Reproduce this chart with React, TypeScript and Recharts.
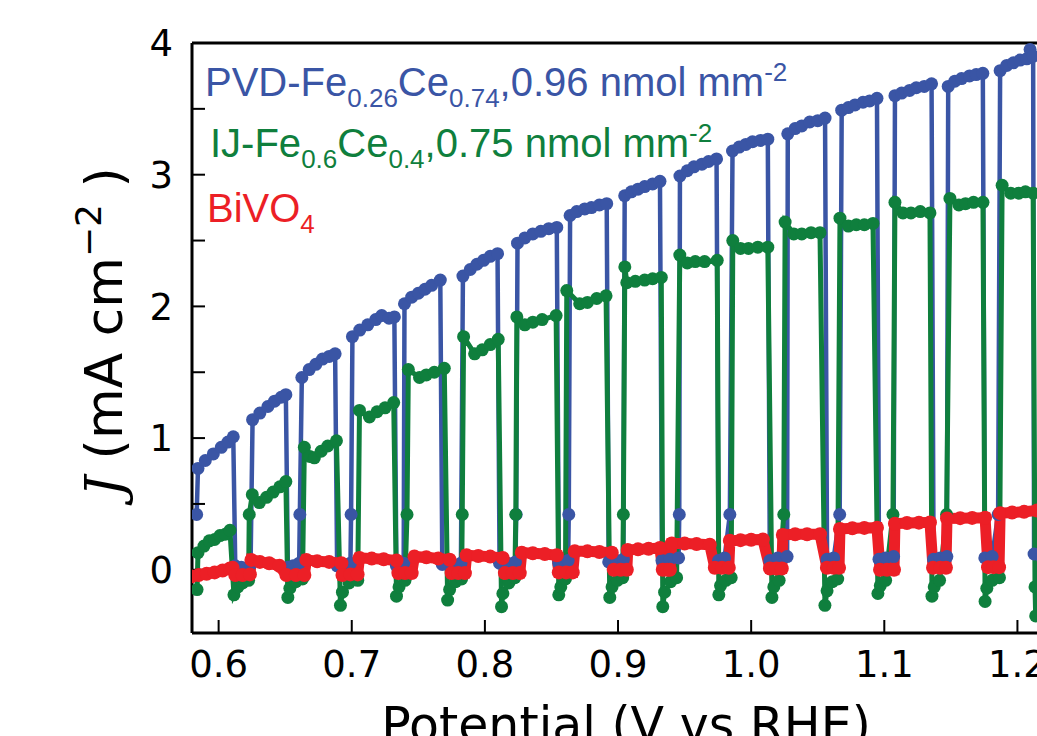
import { LineChart, Line, XAxis, YAxis } from "recharts";

// potential (V vs RHE), J (mA cm^-2)
const pvdPoints: [number, number][] = [
  [0.5835, 0.42], [0.5845, 0.77], [0.59, 0.83], [0.596, 0.88], [0.602, 0.93], [0.607, 0.97], [0.611, 1.01],
  [0.6125, 0.03], [0.617, 0.02], [0.624, 0.04],
  [0.6255, 1.14], [0.631, 1.19], [0.637, 1.24], [0.642, 1.28], [0.647, 1.31], [0.6505, 1.33],
  [0.652, 0.02], [0.656, 0.03], [0.6605, 0.05], [0.661, 0.42],
  [0.6625, 1.46], [0.668, 1.52], [0.673, 1.56], [0.678, 1.6], [0.683, 1.62], [0.6875, 1.64],
  [0.689, 0.03], [0.694, 0.04], [0.699, 0.05], [0.6995, 0.42],
  [0.7005, 1.77], [0.706, 1.82], [0.712, 1.86], [0.718, 1.9], [0.7225, 1.93], [0.728, 1.91], [0.732, 1.92],
  [0.7335, 0.03], [0.737, 0.04], [0.739, 0.05],
  [0.7396, 2.02], [0.745, 2.07], [0.75, 2.1], [0.755, 2.13], [0.76, 2.16], [0.7665, 2.2],
  [0.768, 0.04], [0.775, 0.04], [0.782, 0.05],
  [0.7835, 2.23], [0.789, 2.28], [0.794, 2.32], [0.799, 2.35], [0.804, 2.38], [0.8095, 2.4],
  [0.811, 0.05], [0.817, 0.05], [0.823, 0.06], [0.8235, 0.42],
  [0.8245, 2.48], [0.83, 2.52], [0.836, 2.55], [0.842, 2.57], [0.848, 2.59], [0.854, 2.6],
  [0.8555, 0.05], [0.86, 0.06], [0.8625, 0.07], [0.863, 0.42],
  [0.864, 2.69], [0.869, 2.72], [0.875, 2.74], [0.88, 2.75], [0.886, 2.77], [0.8915, 2.78],
  [0.893, 0.06], [0.899, 0.07], [0.904, 0.08],
  [0.905, 2.84], [0.91, 2.87], [0.915, 2.89], [0.92, 2.91], [0.926, 2.93], [0.9315, 2.95],
  [0.933, 0.07], [0.939, 0.08], [0.9455, 0.09], [0.946, 0.42],
  [0.9465, 2.99], [0.952, 3.03], [0.957, 3.06], [0.963, 3.08], [0.968, 3.1], [0.974, 3.12],
  [0.9755, 0.07], [0.98, 0.09], [0.984, 0.42],
  [0.986, 3.18], [0.991, 3.21], [0.996, 3.23], [1.001, 3.25], [1.007, 3.26], [1.0125, 3.27],
  [1.014, 0.07], [1.02, 0.09], [1.027, 0.1],
  [1.0275, 3.31], [1.033, 3.35], [1.038, 3.37], [1.044, 3.4], [1.05, 3.41], [1.0555, 3.43],
  [1.057, 0.08], [1.062, 0.09], [1.0665, 0.42],
  [1.068, 3.49], [1.073, 3.51], [1.078, 3.53], [1.084, 3.55], [1.089, 3.56], [1.0945, 3.58],
  [1.096, 0.08], [1.101, 0.09], [1.107, 0.1],
  [1.108, 3.6], [1.113, 3.62], [1.119, 3.64], [1.124, 3.66], [1.13, 3.67], [1.1355, 3.69],
  [1.137, 0.08], [1.142, 0.09], [1.147, 0.1],
  [1.148, 3.67], [1.153, 3.71], [1.158, 3.73], [1.164, 3.75], [1.169, 3.76], [1.174, 3.77],
  [1.1755, 0.09], [1.181, 0.1], [1.1855, 0.42],
  [1.187, 3.79], [1.192, 3.83], [1.197, 3.85], [1.202, 3.87], [1.207, 3.88], [1.2095, 3.95], [1.2118, 3.9],
  [1.2125, 0.12], [1.218, 0.1],
];

const ijPoints: [number, number][] = [
  [0.5838, -0.15], [0.5845, 0.13], [0.589, 0.18], [0.593, 0.22], [0.597, 0.23], [0.601, 0.26], [0.605, 0.27], [0.6085, 0.3],
  [0.6115, -0.19], [0.6145, -0.13], [0.618, -0.1], [0.6225, -0.08], [0.623, 0.42],
  [0.6253, 0.57], [0.6306, 0.51], [0.636, 0.55], [0.641, 0.59], [0.646, 0.63], [0.6505, 0.67],
  [0.652, -0.21], [0.6535, -0.14], [0.658, -0.09], [0.663, -0.07],
  [0.6644, 0.93], [0.6685, 0.86], [0.6719, 0.85], [0.677, 0.9], [0.682, 0.94], [0.6885, 0.98],
  [0.6915, -0.27], [0.693, -0.17], [0.698, -0.1], [0.7045, -0.08],
  [0.7058, 1.21], [0.7133, 1.16], [0.719, 1.2], [0.725, 1.23], [0.7315, 1.27],
  [0.7336, -0.2], [0.7355, -0.13], [0.74, -0.08], [0.7415, 0.42],
  [0.7425, 1.52], [0.7509, 1.46], [0.756, 1.48], [0.762, 1.5], [0.7695, 1.53],
  [0.772, -0.23], [0.7735, -0.15], [0.778, -0.09], [0.7825, -0.07], [0.783, 0.42],
  [0.784, 1.77], [0.7923, 1.64], [0.798, 1.67], [0.804, 1.71], [0.81, 1.75],
  [0.8125, -0.28], [0.8135, -0.18], [0.818, -0.1], [0.8225, -0.06], [0.8232, 0.42],
  [0.824, 1.92], [0.83, 1.86], [0.836, 1.88], [0.843, 1.9], [0.8535, 1.93],
  [0.8555, -0.19], [0.857, -0.13], [0.8605, -0.07],
  [0.8615, 2.12], [0.8712, 2.02], [0.877, 2.03], [0.884, 2.06], [0.891, 2.08],
  [0.8938, -0.21], [0.8955, -0.13], [0.8995, -0.08], [0.9035, -0.06], [0.904, 0.42],
  [0.9051, 2.3], [0.9066, 2.18], [0.913, 2.19], [0.92, 2.2], [0.926, 2.21], [0.9325, 2.22],
  [0.9336, -0.28], [0.935, -0.17], [0.9395, -0.09], [0.944, -0.06],
  [0.9464, 2.39], [0.952, 2.33], [0.958, 2.34], [0.965, 2.34], [0.9745, 2.35],
  [0.9757, -0.19], [0.977, -0.12], [0.981, -0.08], [0.985, -0.06],
  [0.9862, 2.5], [0.992, 2.44], [0.998, 2.44], [1.005, 2.45], [1.0125, 2.45],
  [1.0156, -0.21], [1.017, -0.13], [1.021, -0.08], [1.0245, 0.42],
  [1.0255, 2.64], [1.032, 2.55], [1.038, 2.55], [1.045, 2.56], [1.0517, 2.56],
  [1.0554, -0.27], [1.057, -0.16], [1.061, -0.09], [1.065, -0.07],
  [1.0667, 2.67], [1.073, 2.61], [1.079, 2.62], [1.085, 2.62], [1.0915, 2.63],
  [1.0952, -0.18], [1.097, -0.12], [1.101, -0.08], [1.1065, 0.42],
  [1.108, 2.79], [1.114, 2.71], [1.12, 2.71], [1.127, 2.72], [1.1343, 2.71],
  [1.1358, -0.2], [1.1375, -0.13], [1.1415, -0.08], [1.1468, 0.42],
  [1.1493, 2.82], [1.156, 2.77], [1.161, 2.78], [1.167, 2.79], [1.1741, 2.79],
  [1.1757, -0.24], [1.177, -0.14], [1.181, -0.08], [1.1865, -0.06],
  [1.1885, 2.92], [1.195, 2.86], [1.201, 2.86], [1.206, 2.87], [1.2118, 2.86],
  [1.2132, -0.13], [1.2137, -0.35], [1.217, -0.15],
];

const bivoPoints: [number, number][] = [
  [0.5795, -0.05], [0.585, -0.04], [0.591, -0.03], [0.597, -0.02], [0.603, -0.005], [0.6085, 0.01], [0.6105, 0.015],
  [0.6125, -0.04], [0.618, -0.04], [0.6235, -0.035],
  [0.6246, 0.075], [0.631, 0.06], [0.638, 0.05], [0.6457, 0.03],
  [0.6509, -0.04], [0.658, -0.04], [0.6644, -0.04],
  [0.6659, 0.075], [0.674, 0.065], [0.683, 0.06], [0.6922, 0.05],
  [0.693, -0.04], [0.699, -0.035], [0.7044, -0.035],
  [0.7058, 0.09], [0.715, 0.085], [0.724, 0.08], [0.7336, 0.07],
  [0.735, -0.025], [0.74, -0.025], [0.745, -0.025],
  [0.7471, 0.1], [0.756, 0.095], [0.765, 0.085], [0.7735, 0.076],
  [0.775, -0.025], [0.78, -0.025], [0.785, -0.025],
  [0.7863, 0.11], [0.795, 0.105], [0.804, 0.1], [0.8134, 0.09],
  [0.815, -0.025], [0.821, -0.025], [0.8262, -0.025],
  [0.8277, 0.13], [0.836, 0.125], [0.845, 0.12], [0.854, 0.11],
  [0.8555, -0.02], [0.861, -0.02], [0.866, -0.02],
  [0.8675, 0.14], [0.877, 0.14], [0.886, 0.135], [0.8953, 0.13],
  [0.8968, 0.0], [0.902, 0.0], [0.9066, 0.0],
  [0.9073, 0.15], [0.915, 0.155], [0.923, 0.16], [0.9314, 0.165],
  [0.9336, 0.0], [0.937, 0.0], [0.939, 0.0],
  [0.9404, 0.2], [0.95, 0.2], [0.959, 0.195], [0.9689, 0.19],
  [0.9727, 0.015], [0.978, 0.015], [0.9832, 0.015],
  [0.984, 0.22], [0.992, 0.225], [1.0, 0.228], [1.0088, 0.23],
  [1.0141, 0.01], [1.019, 0.01], [1.023, 0.01],
  [1.0238, 0.265], [1.033, 0.27], [1.042, 0.27], [1.0517, 0.27],
  [1.0569, 0.015], [1.062, 0.015], [1.066, 0.015],
  [1.0667, 0.31], [1.076, 0.315], [1.085, 0.318], [1.0945, 0.32],
  [1.0968, 0.0], [1.102, 0.0], [1.1073, 0.0],
  [1.108, 0.35], [1.117, 0.355], [1.126, 0.358], [1.1343, 0.36],
  [1.1366, 0.015], [1.142, 0.015], [1.1463, 0.015],
  [1.1471, 0.39], [1.157, 0.392], [1.166, 0.394], [1.1757, 0.395],
  [1.1779, 0.02], [1.182, 0.02], [1.1862, 0.02],
  [1.187, 0.43], [1.196, 0.435], [1.205, 0.44], [1.2148, 0.45], [1.224, 0.455], [1.233, 0.46],
];

const xTicks = [0.6, 0.7, 0.8, 0.9, 1.0, 1.1, 1.2];
const yTicks = [0, 0.5, 1, 1.5, 2, 2.5, 3, 3.5, 4];

const BLUE = "#3a55a5";
const GREEN = "#0f7f3d";
const RED = "#ec1f26";

const toRows = (pts: [number, number][]) => pts.map(([v, j]) => ({ v, j }));

const tickFont = { fontSize: 37, fill: "#000", fontFamily: "DejaVu Sans" };
const axisStroke = { stroke: "#000", strokeWidth: 3 };
const tickStroke = { stroke: "#000", strokeWidth: 2 };

export default function App() {
  return (
    <div
      style={{
        position: "fixed",
        left: 0,
        top: 0,
        width: 1037,
        height: 736,
        overflow: "hidden",
        background: "#fff",
      }}
    >
      <LineChart width={1100} height={736} margin={{ top: 42, right: 16, bottom: 0, left: 0 }}>
        <XAxis
          dataKey="v"
          type="number"
          domain={[0.58, 1.25]}
          ticks={xTicks}
          allowDataOverflow
          height={103}
          tickSize={-13}
          tickMargin={31}
          tick={tickFont}
          tickFormatter={(v: number) => v.toFixed(1)}
          axisLine={axisStroke}
          tickLine={tickStroke}
        />
        <XAxis
          xAxisId="top"
          dataKey="v"
          orientation="top"
          type="number"
          domain={[0.58, 1.25]}
          ticks={xTicks}
          allowDataOverflow
          height={1}
          tickSize={-13}
          tick={false}
          axisLine={axisStroke}
          tickLine={tickStroke}
        />
        <YAxis
          type="number"
          domain={[-0.48, 4]}
          ticks={yTicks}
          allowDataOverflow
          width={192}
          tickSize={-13}
          tickMargin={32}
          tick={tickFont}
          tickFormatter={(v: number) => (Number.isInteger(v) ? String(v) : "")}
          axisLine={axisStroke}
          tickLine={tickStroke}
        />
        <Line
          data={toRows(pvdPoints)}
          dataKey="j"
          type="linear"
          stroke={BLUE}
          strokeWidth={4.5}
          dot={{ r: 6.5, fill: BLUE, stroke: "none" }}
          activeDot={false}
          isAnimationActive={false}
        />
        <Line
          data={toRows(ijPoints)}
          dataKey="j"
          type="linear"
          stroke={GREEN}
          strokeWidth={5}
          dot={{ r: 6.5, fill: GREEN, stroke: "none" }}
          activeDot={false}
          isAnimationActive={false}
        />
        <Line
          data={toRows(bivoPoints)}
          dataKey="j"
          type="linear"
          stroke={RED}
          strokeWidth={11}
          dot={{ r: 7, fill: RED, stroke: "none" }}
          activeDot={false}
          isAnimationActive={false}
        />
      </LineChart>

      <svg
        width={1037}
        height={736}
        style={{ position: "absolute", left: 0, top: 0, pointerEvents: "none" }}
      >
        <g fontFamily="Liberation Sans, Arial, sans-serif" fontSize={40}>
          <text x={205} y={96} fill={BLUE}>
            PVD-Fe
            <tspan fontSize={26} dy={11}>0.26</tspan>
            <tspan dy={-11}>Ce</tspan>
            <tspan fontSize={26} dy={11}>0.74</tspan>
            <tspan dy={-11}>,0.96 nmol mm</tspan>
            <tspan fontSize={26} dy={-15}>-2</tspan>
          </text>
          <text x={210} y={157} fill={GREEN}>
            IJ-Fe
            <tspan fontSize={26} dy={11}>0.6</tspan>
            <tspan dy={-11}>Ce</tspan>
            <tspan fontSize={26} dy={11}>0.4</tspan>
            <tspan dy={-11}>,0.75 nmol mm</tspan>
            <tspan fontSize={26} dy={-15}>-2</tspan>
          </text>
          <text x={207} y={222} fill={RED}>
            BiVO
            <tspan fontSize={26} dy={11}>4</tspan>
          </text>
        </g>
        <text
          transform="translate(122, 332) rotate(-90)"
          textAnchor="middle"
          fontFamily="DejaVu Sans"
          fontSize={52}
          fill="#000"
        >
          <tspan fontFamily="DejaVu Serif" fontStyle="italic">J</tspan>
          <tspan> (mA cm</tspan>
          <tspan fontSize={36} dy={-21}>−2</tspan>
          <tspan dy={21}> )</tspan>
        </text>
        <text x={626} y={742} textAnchor="middle" fontFamily="DejaVu Sans" fontSize={49} fill="#000">
          Potential (V vs RHE)
        </text>
      </svg>
    </div>
  );
}
